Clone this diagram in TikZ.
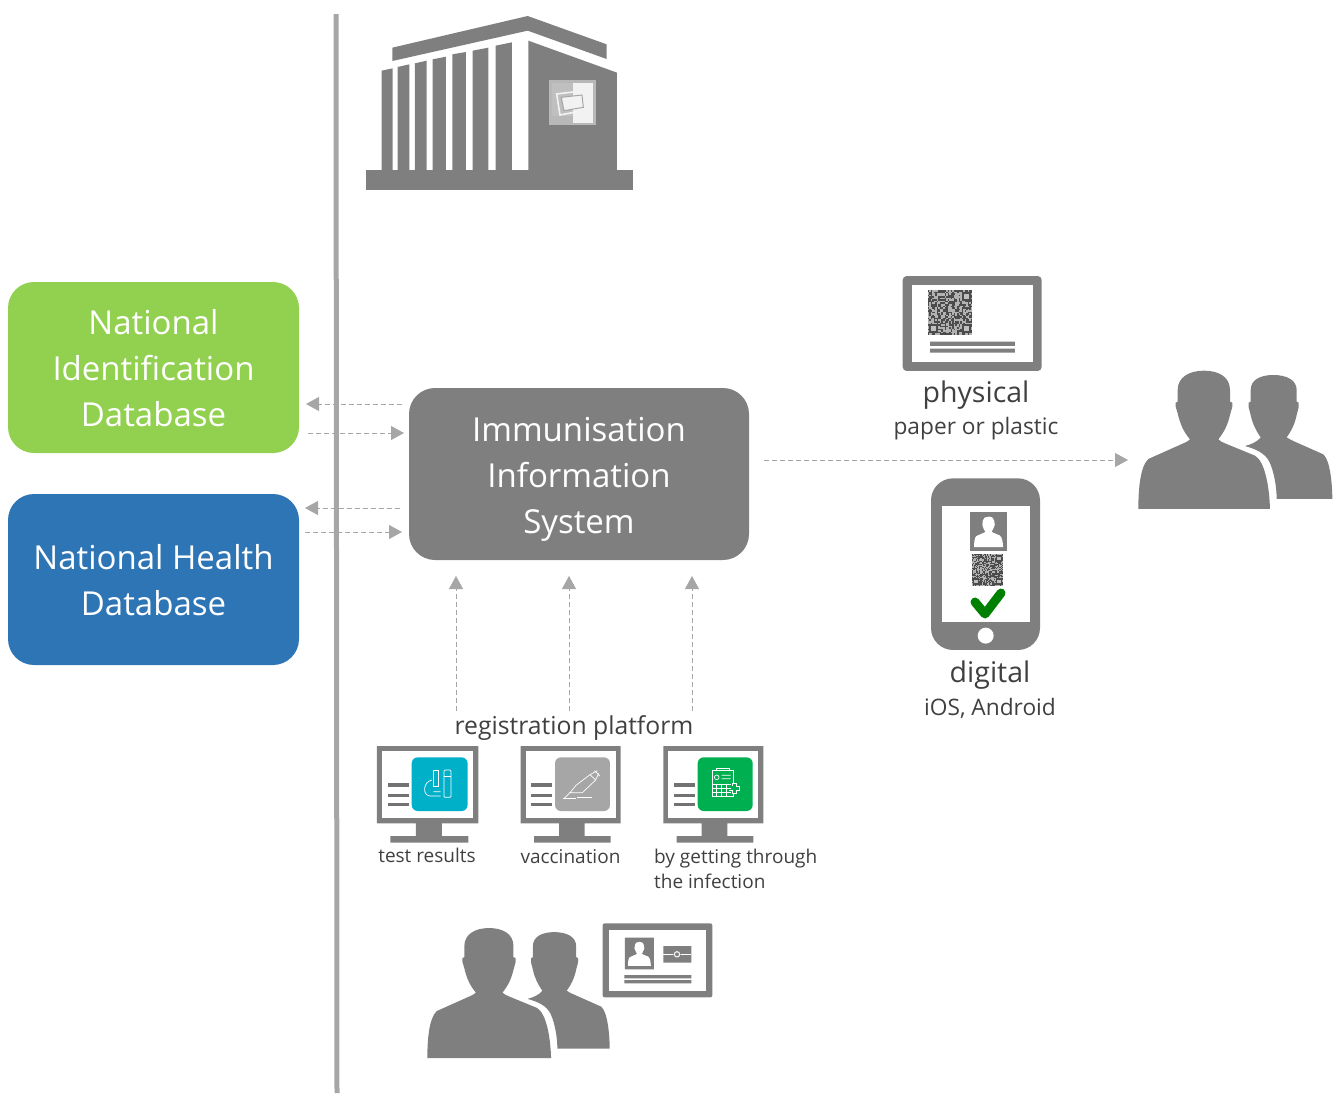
\documentclass[tikz,border=0pt]{standalone}
\usepackage{fontspec}
\setmainfont{Open Sans}
\usetikzlibrary{arrows.meta}
\definecolor{icongray}{HTML}{7F7F7F}
\definecolor{flowgray}{HTML}{A6A6A6}
\definecolor{labelgray}{HTML}{404040}
\definecolor{idgreen}{HTML}{92D050}
\definecolor{healthblue}{HTML}{2E75B6}
\definecolor{testteal}{HTML}{00B0C8}
\definecolor{recovergreen}{HTML}{00B050}
\begin{document}
\begin{tikzpicture}[x=1pt,y=-1pt,
  flow/.style={draw=flowgray,line width=0.8pt,dash pattern=on 5pt off 3pt,-{Triangle[width=14pt,length=13pt,fill=flowgray,sep=0pt]}},
  dbbox/.style={rectangle,rounded corners=26pt,minimum width=291pt,minimum height=171pt,text=white,align=center,font=\fontsize{33}{46}\selectfont},
  biglabel/.style={text=labelgray,font=\fontsize{28.5}{32}\selectfont},
  reglabel/.style={text=labelgray,font=\fontsize{24.7}{30}\selectfont},
  smalllabel/.style={text=labelgray,font=\fontsize{22.7}{26}\selectfont},
  tinylabel/.style={text=labelgray,font=\fontsize{19}{25}\selectfont},
  pics/frontperson/.style={code={
    \fill[#1] (25,447) .. controls (25,390) and (30,320) .. (55,297) -- (160,250) .. controls (170,246) and (176,242) .. (180,238)
      .. controls (160,215) and (150,190) .. (143,160) -- (137,140) -- (137,128) -- (143,125) -- (143,90)
      .. controls (143,50) and (180,32) .. (222,32) .. controls (265,32) and (300,50) .. (300,90) -- (300,125) -- (307,128) -- (307,140) -- (300,165)
      .. controls (293,195) and (283,215) .. (265,238) .. controls (270,243) and (275,246) .. (285,250) -- (375,287)
      .. controls (405,305) and (418,380) .. (420,447) -- cycle;
  }},
  pics/backperson/.style={code={
    \fill[#1] (440,417) -- (607,417) .. controls (607,370) and (600,300) .. (580,283) -- (490,243) .. controls (480,238) and (475,236) .. (470,232)
      .. controls (485,212) and (495,190) .. (500,165) -- (506,142) -- (506,128) -- (500,125) -- (500,90)
      .. controls (500,60) and (470,45) .. (430,45) .. controls (390,45) and (362,60) .. (362,90) -- (362,125) -- (356,128) -- (356,142) -- (362,165)
      .. controls (367,190) and (378,212) .. (392,232) .. controls (382,245) and (365,253) .. (345,258)
      .. controls (380,268) and (405,280) .. (418,305) .. controls (432,335) and (440,380) .. (440,417) -- cycle;
  }},
  pics/monitor/.style={code={
    \fill[icongray] (20,18) rectangle (320,250) (135,250) rectangle (212,288) (60,288) rectangle (290,308);
    \fill[white] (35,33) rectangle (305,235);
    \foreach \ly in {135,167,193} \fill[icongray!90!black] (52,\ly-5) rectangle (115,\ly+5);
    \fill[#1,rounded corners=6pt] (123,52) rectangle (288,213);
  }},
  pics/qrcode/.style={code={
    \fill[black!30] (0,0) rectangle (29,29);
    \pgfmathsetseed{#1}
    \foreach \qi in {0,...,28} \foreach \qj in {0,...,28} {
      \pgfmathparse{rnd>0.45?1:0}
      \ifnum\pgfmathresult=1 \fill[black!70] (\qi,\qj) rectangle (\qi+1,\qj+1); \fi
    }
    \foreach \qx/\qy in {1/22,22/22,22/1} {
      \fill[black!70] (\qx,\qy) rectangle (\qx+6,\qy+6);
      \fill[black!25] (\qx+1.5,\qy+1.5) rectangle (\qx+4.5,\qy+4.5);
    }
  }}]
\useasboundingbox (0,0) rectangle (1341,1093);

\fill[flowgray] (333.5,14) -- (338.5,14) -- (339.5,1093) -- (334.5,1093) -- cycle;

% building
\begin{scope}[shift={(360,0)},scale=0.3333]
  \fill[icongray] (97,143) -- (503,48) -- (740,133) -- (740,177) -- (503,92) -- (97,183) -- cycle;
  \fill[icongray] (18,510) rectangle (818,570);
  \foreach \bl/\br/\tl/\tr in {65/98/212/205,113/148/201/193,165/200/190/182,218/258/178/170,277/318/163/156,338/385/152/143,407/456/137/127}
    \fill[icongray] (\bl,511) -- (\bl,\tl) -- (\br,\tr) -- (\br,511) -- cycle;
  \fill[icongray] (505,122) -- (771,218) -- (771,511) -- (505,511) -- cycle;
  \fill[black!28] (567,240) rectangle (707,375);
  \fill[black!5] (638,248) rectangle (698,368);
  \fill[black!25] (577,248) rectangle (638,348);
  \draw[black!5,line width=1.6pt] (590,282) -- (672,272) -- (680,330) -- (600,345) -- cycle;
  \fill[black!5,draw=flowgray,line width=1pt] (604,292) -- (666,285) -- (670,322) -- (612,332) -- cycle;
\end{scope}

\node[dbbox,fill=idgreen] (idb) at (153.5,367.5) {\rule{0pt}{27pt}National\\Identification\\Database};
\node[dbbox,fill=healthblue] (hdb) at (153.5,579.5) {\rule{0pt}{27pt}National Health\\Database};
\node[dbbox,fill=icongray,minimum width=340pt,minimum height=172pt] (iis) at (579,474) {\rule{0pt}{34pt}Immunisation\\Information\\System};

\coordinate (idin) at (306,404);
\coordinate (idout) at (308,433);
\coordinate (iisidout) at (402,404);
\coordinate (iisidin) at (404,433);
\coordinate (hdin) at (305,508);
\coordinate (hdout) at (305,532);
\coordinate (iishdout) at (400,508);
\coordinate (iishdin) at (402,532);
\coordinate (iisout) at (764,460);
\coordinate (holderin) at (1128,460);
\draw[flow] (iisidout) -- (idin);
\draw[flow] (idout) -- (iisidin);
\draw[flow] (iishdout) -- (hdin);
\draw[flow] (hdout) -- (iishdin);
\draw[flow] (iisout) -- (holderin);

\node[reglabel] (regplatform) at (574,728) {registration platform};
\coordinate (upa) at (456,576);
\coordinate (upb) at (569,576);
\coordinate (upc) at (692,576);
\coordinate (regtop) at (574,711);
\draw[flow] (upa |- regtop) -- (upa);
\draw[flow] (upb |- regtop) -- (upb);
\draw[flow] (upc |- regtop) -- (upc);

% registration screens
\pic[xscale=0.339,yscale=0.3333] at (370,740) {monitor=testteal};
\pic[scale=0.3333] at (514,740) {monitor=flowgray};
\pic[scale=0.3333] at (656.7,740) {monitor=recovergreen};
\begin{scope}[shift={(370,740)},scale=0.3333,white,line width=0.7pt]
  \draw[rounded corners=1pt] (222,90) rectangle (243,172);
  \draw (222,110) -- (243,110);
  \draw (190,92) rectangle (205,140);
  \draw (186,120) .. controls (160,125) and (155,165) .. (180,168) -- (212,168) (190,155) -- (212,155);
\end{scope}
\begin{scope}[shift={(514,740)},scale=0.3333,white,line width=0.7pt]
  \draw (190,172) -- (235,172) (148,176) -- (185,176);
  \draw (168,158) -- (186,136) -- (228,104) -- (245,120) -- (205,158) -- cycle;
  \draw (150,176) -- (168,158) (228,104) -- (250,92) (245,120) -- (254,100) (242,92) -- (258,108);
\end{scope}
\begin{scope}[shift={(656.7,740)},scale=0.3333,white,line width=0.7pt]
  \draw (168,92) rectangle (230,170);
  \draw (180,92) -- (180,86) -- (218,86) -- (218,92);
  \foreach \cy in {132,146,158} \draw (170,\cy) -- (225,\cy);
  \foreach \cx in {180,195,210} \draw (\cx,132) -- (\cx,170);
  \draw (180,112) circle (7) (195,106) -- (222,106) (195,116) -- (222,116);
  \fill[recovergreen] (222,130) rectangle (250,162);
  \draw (228,138) -- (228,130) -- (238,130) -- (238,138) -- (248,138) -- (248,150) -- (238,150) -- (238,160) -- (228,160) -- (228,150) -- (218,150);
\end{scope}
\node[tinylabel] (testlbl) at (427,855) {test results};
\node[tinylabel] (vacclbl) at (570.5,857) {vaccination};
\node[tinylabel,align=left,anchor=north west,inner sep=0pt] (infectlbl) at (654,849) {by getting through\\the infection};

% people with id card
\pic[scale=0.3133] at (419.5,918) {backperson=icongray};
\pic[scale=0.3133] at (419.5,918) {frontperson=icongray};
\begin{scope}[shift={(420,915)},scale=0.3333]
  \fill[icongray,rounded corners=2pt] (548,25) rectangle (877,247);
  \fill[white] (568,45) rectangle (858,228);
  \fill[icongray] (615,68) rectangle (702,163) (730,93) rectangle (814,143);
  \draw[white,line width=1pt] (730,118) -- (814,118);
  \fill[icongray] (771,118) circle (11);
  \draw[white,line width=1pt] (771,118) circle (8);
  \fill[icongray] (613,180) rectangle (814,190) (613,195) rectangle (814,205);
\end{scope}
\pic[scale=0.058] at (626.5,940) {frontperson=white};

% physical certificate
\begin{scope}[shift={(890,270)},scale=0.3333]
  \fill[icongray,rounded corners=4pt] (38,18) rectangle (455,303);
  \fill[white] (65,45) rectangle (428,277);
  \fill[icongray] (120,215) rectangle (375,228) (120,236) rectangle (375,248);
\end{scope}
\pic[scale=1.55] at (927.5,290) {qrcode=7};
\node[biglabel] (physlbl) at (976,395) {physical};
\node[smalllabel] (physsub) at (976,429) {paper or plastic};

% digital certificate
\begin{scope}[shift={(920,470)},scale=0.3333]
  \fill[icongray,rounded corners=22pt] (33,25) rectangle (360,540);
  \fill[white] (66,108) rectangle (330,457);
  \fill[white] (197,497) circle (24);
  \fill[icongray] (150,127) rectangle (261,242);
\end{scope}
\pic[scale=0.0735] at (972.2,514.3) {frontperson=white};
\pic[scale=1.09] at (971.7,554) {qrcode=11};
\draw[green!50!black,line width=9pt,line cap=round,line join=round] (975,602) -- (985,614) -- (1001,593);
\node[biglabel] (digilbl) at (990,675) {digital};
\node[smalllabel] (digisub) at (990,708) {iOS, Android};

% certificate holders
\pic[scale=0.3333] at (1130,360) {backperson=icongray};
\pic[scale=0.3333] at (1130,360) {frontperson=icongray};
\end{tikzpicture}
\end{document}
